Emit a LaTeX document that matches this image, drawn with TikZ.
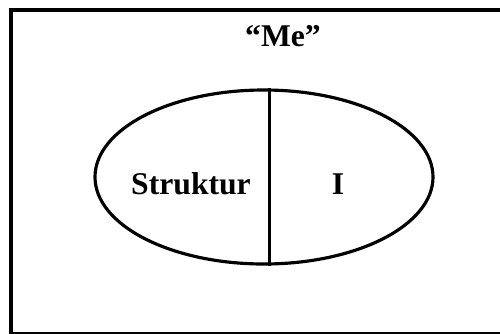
\documentclass[tikz,border=0pt]{standalone}
\usepackage{fontspec}
\setmainfont{Liberation Serif}
\usetikzlibrary{positioning,shapes.geometric}

\begin{document}
\begin{tikzpicture}[
  frame/.style={draw, line width=2.3pt},
  selfshape/.style={ellipse, draw, line width=1.8pt, minimum width=6.76cm, minimum height=3.48cm, inner sep=0pt},
  divider/.style={line width=1.7pt},
  label/.style={font=\bfseries\fontsize{18}{20}\selectfont, anchor=base, inner sep=0pt}
]
\useasboundingbox (0,0) rectangle (10,6.66);
\clip (0,0) rectangle (10,6.66);
\draw[frame] (0.22,6.46) rectangle (10.5,-0.03);
\node[label] (me) at (5.66,5.73) {``Me''};
\node[selfshape] (self) at (5.28,3.12) {};
\node[label] (struk) at (3.82,2.78) {Struktur};
\node[label] (ego) at (6.76,2.78) {I};
\draw[divider] ([xshift=0.1cm]self.north) -- ([xshift=0.1cm]self.south);
\end{tikzpicture}
\end{document}
